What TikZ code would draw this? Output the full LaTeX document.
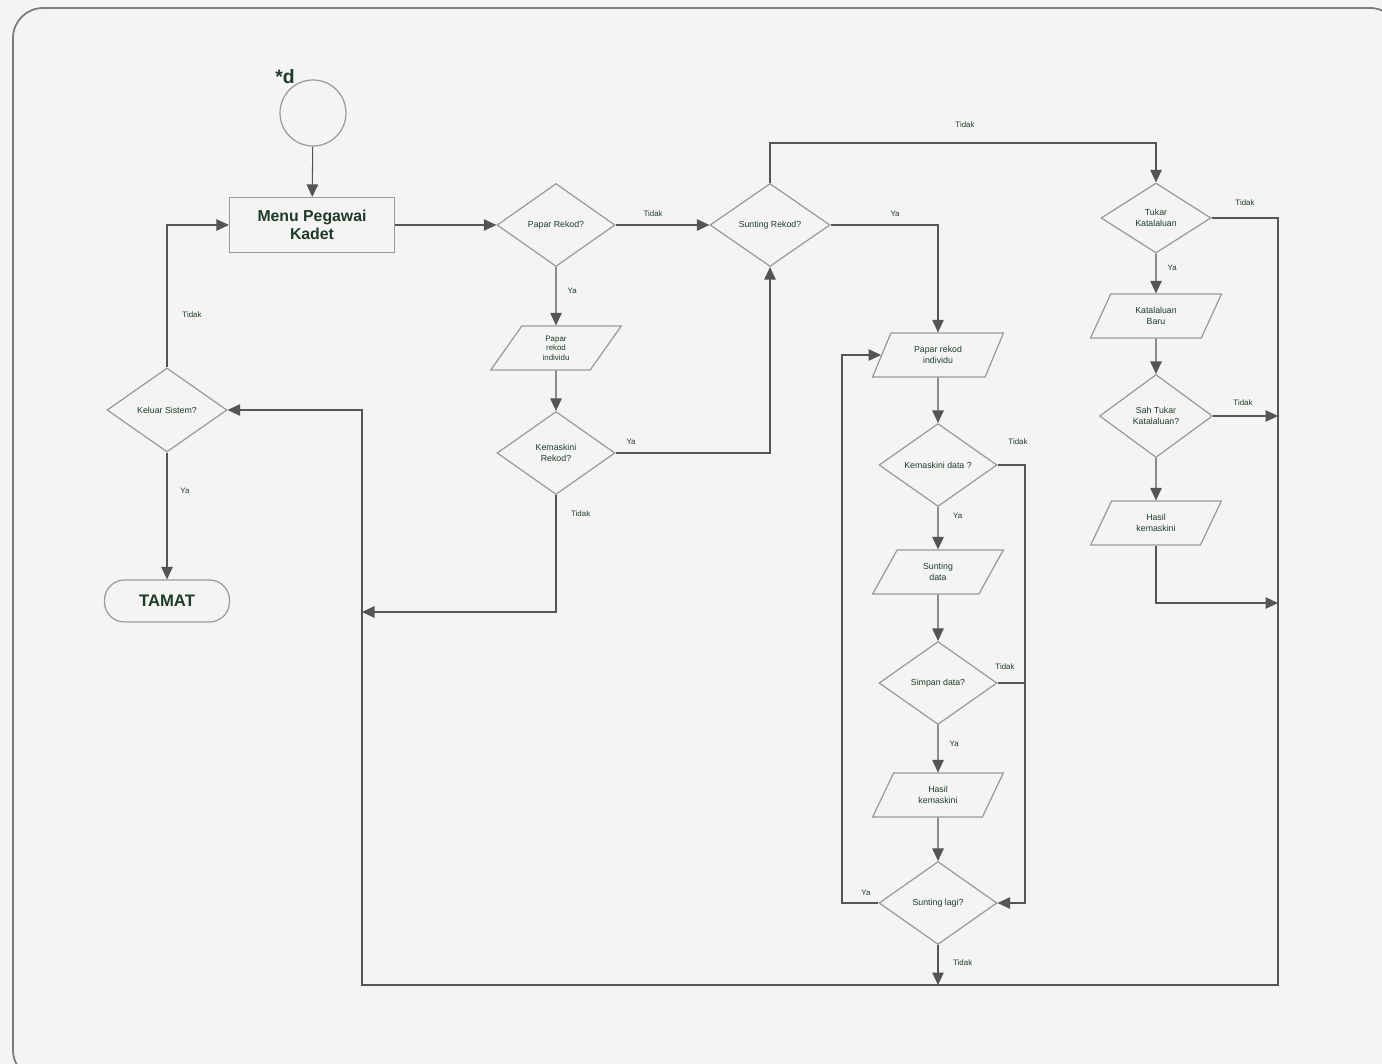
\documentclass[tikz,border=0pt]{standalone}
\usepackage{fontspec}
\setmainfont{Liberation Sans}
\usepackage{xcolor}
\usetikzlibrary{positioning,arrows.meta,calc,shapes.geometric}
\definecolor{cText}{HTML}{1F3A2C}
\definecolor{cLine}{HTML}{555555}
\definecolor{cEdge}{HTML}{9A9A9A}
\definecolor{cPaper}{HTML}{F4F4F2}

\begin{document}
\begin{tikzpicture}[
  x=0.02cm, y=-0.02cm,
  font=\fontsize{5}{6}\selectfont, text=cText,
  dec/.style={diamond,draw=cEdge,line width=0.7pt,inner sep=0pt,align=center,minimum width=2.36cm,minimum height=1.66cm},
  io/.style={trapezium,trapezium left angle=64,trapezium right angle=116,trapezium stretches=true,draw=cEdge,line width=0.7pt,align=center,inner sep=1pt,minimum width=2.62cm,minimum height=0.88cm},
  ar/.style={-{Triangle[length=2.5mm,width=2.3mm]},draw=cLine,line width=0.6pt},
  ln/.style={draw=cLine,line width=0.6pt},
  lbl/.style={font=\fontsize{4.5}{5}\selectfont}
]
\clip (0,0) rectangle (1382,1064);
\fill[cPaper] (0,0) rectangle (1382,1064);
\draw[cEdge!80!black,line width=1pt,rounded corners=0.6cm] (13,8) rectangle (1400,1080);

% main menu
\node[circle,draw=cEdge,line width=0.7pt,minimum size=1.32cm] (mula) at (313,113) {};
\node[font=\bfseries\fontsize{11}{12}\selectfont] (tag) at (285,77) {*d};
\node[draw=cEdge,line width=0.7pt,minimum width=3.3cm,minimum height=1.1cm,align=center,
      font=\bfseries\fontsize{9}{10}\selectfont] (menu) at (312,225) {Menu Pegawai\\Kadet};
\node[dec,minimum width=2.4cm,minimum height=1.68cm] (keluar) at (167,410) {Keluar Sistem?};
\node[draw=cEdge,line width=0.7pt,rounded corners=0.4cm,minimum width=2.5cm,minimum height=0.84cm,
      font=\bfseries\fontsize{9.5}{10}\selectfont] (tamat) at (167,601) {TAMAT};
\draw[ar] (mula) -- (menu);
\draw[ar] (keluar.north) |- (menu.west);
\node[lbl] (t0) at (192,315) {Tidak};
\draw[ar] (keluar.south) -- (tamat.north) node[lbl,pos=0.3,right=4pt] {Ya};

% papar rekod
\node[dec] (papar) at (556,225) {Papar Rekod?};
\node[io,font=\fontsize{4.5}{5.5}\selectfont] (paparind) at (556,348) {Papar\\rekod\\individu};
\node[dec] (kemrek) at (556,453) {Kemaskini\\Rekod?};
\draw[ar] (menu.east) -- (papar.west);
\draw[ar] (papar.south) -- (paparind.north) node[lbl,pos=0.4,right=3pt] {Ya};
\draw[ar] (paparind.south) -- (kemrek.north);
\coordinate (kiri) at (362,612);
\draw[ar] (kemrek.south) |- (kiri) node[lbl,pos=0.08,right=5pt] {Tidak};

% sunting rekod
\node[dec,minimum width=2.4cm] (sunting) at (770,225) {Sunting Rekod?};
\draw[ar] (papar.east) -- (sunting.west) node[lbl,pos=0.4,above=1pt] {Tidak};
\draw[ar] (kemrek.east) -| (sunting.south) node[lbl,pos=0.05,above=1pt] {Ya};

% sunting data column
\node[io] (paparind2) at (938,355) {Papar rekod\\individu};
\node[dec] (kemdata) at (938,465) {Kemaskini data ?};
\node[io] (suntdata) at (938,572) {Sunting\\data};
\node[dec] (simpan) at (938,683) {Simpan data?};
\node[io] (hasil) at (938,795) {Hasil\\kemaskini};
\node[dec] (lagi) at (938,903) {Sunting lagi?};
\draw[ar] (sunting.east) -| (paparind2.north) node[lbl,pos=0.3,above=1pt] {Ya};
\draw[ar] (paparind2.south) -- (kemdata.north);
\draw[ar] (kemdata.south) -- (suntdata.north) node[lbl,pos=0.2,right=5pt] {Ya};
\draw[ar] (suntdata.south) -- (simpan.north);
\draw[ar] (simpan.south) -- (hasil.north) node[lbl,pos=0.4,right=3pt] {Ya};
\draw[ar] (hasil.south) -- (lagi.north);
\coordinate (kanan) at (1025,903);
\coordinate (balik) at (842,903);
\draw[ar] (kemdata.east) -| (kanan) -- (lagi.east);
\node[lbl] (t1) at (1018,442) {Tidak};
\draw[ln] (simpan.east) -- (simpan.east -| kanan);
\node[lbl] (t2) at (1005,667) {Tidak};
\draw[ar] (lagi.west) -- (balik) |- (paparind2.west);
\node[lbl] (y1) at (866,893) {Ya};

% tukar katalaluan column
\node[dec,minimum width=2.2cm,minimum height=1.4cm] (tukar) at (1156,218) {Tukar\\Katalaluan};
\node[io] (katabaru) at (1156,316) {Katalaluan\\Baru};
\node[dec,minimum width=2.26cm,minimum height=1.66cm] (sah) at (1156,416) {Sah Tukar\\Katalaluan?};
\node[io] (hasil2) at (1156,523) {Hasil\\kemaskini};
\coordinate (atas) at (965,143);
\draw[ar] (sunting.north) |- (atas) -| (tukar.north);
\node[lbl] (t3) at (965,125) {Tidak};
\draw[ar] (tukar.south) -- (katabaru.north) node[lbl,pos=0.35,right=3pt] {Ya};
\draw[ar] (katabaru.south) -- (sah.north);
\draw[ar] (sah.south) -- (hasil2.north);

% return lines
\coordinate (bkanan) at (1278,985);
\coordinate (bkiri) at (362,985);
\coordinate (r603) at (1278,603);
\draw[ar] (tukar.east) -| (bkanan) -- (bkiri) |- (keluar.east);
\node[lbl] (t4) at (1245,203) {Tidak};
\draw[ar] (sah.east) -- (sah.east -| bkanan);
\node[lbl] (t5) at (1243,403) {Tidak};
\draw[ar] (hasil2.south) |- (r603);
\draw[ar] (lagi.south) -- (lagi.south |- bkanan) node[lbl,pos=0.45,right=5pt] {Tidak};
\end{tikzpicture}
\end{document}
